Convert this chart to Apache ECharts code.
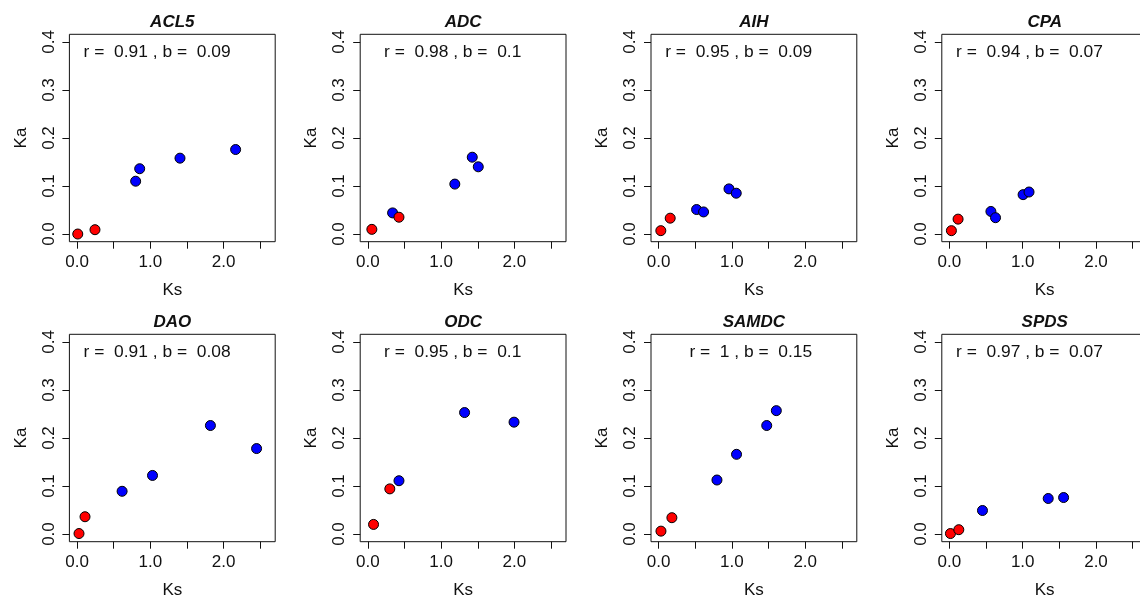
<!DOCTYPE html>
<html>
<head>
<meta charset="utf-8">
<title>Ka vs Ks</title>
<script src="https://cdn.jsdelivr.net/npm/echarts@6/dist/echarts.min.js"></script>
<style>
  html, body { margin: 0; padding: 0; background: #ffffff; }
  #chart { width: 1140px; height: 596px; }
</style>
</head>
<body>
<div id="chart"></div>
<script>
// Gene panels, in reading order (top row, then bottom row)
const genes = ['ACL5', 'ADC', 'AIH', 'CPA', 'DAO', 'ODC', 'SAMDC', 'SPDS'];
const rValues = ['0.91', '0.98', '0.95', '0.94', '0.91', '0.95', '1', '0.97'];
const bValues = ['0.09', '0.1', '0.09', '0.07', '0.08', '0.1', '0.15', '0.07'];

// Ks / Ka per gene, sorted by Ks; group 0 = red, 1 = blue
const ksACL5 = [0.01, 0.245, 0.80, 0.855, 1.405, 2.164];
const kaACL5 = [0.000, 0.009, 0.110, 0.136, 0.158, 0.176];
const grpACL5 = [0, 0, 1, 1, 1, 1];

const ksADC = [0.055, 0.338, 0.425, 1.187, 1.425, 1.507];
const kaADC = [0.0097, 0.044, 0.035, 0.104, 0.160, 0.140];
const grpADC = [0, 1, 0, 1, 1, 1];

const ksAIH = [0.03, 0.158, 0.518, 0.613, 0.96, 1.059];
const kaAIH = [0.007, 0.033, 0.051, 0.046, 0.094, 0.085];
const grpAIH = [0, 0, 1, 1, 1, 1];

const ksCPA = [0.027, 0.118, 0.566, 0.629, 1.005, 1.086];
const kaCPA = [0.007, 0.031, 0.047, 0.034, 0.082, 0.0875];
const grpCPA = [0, 0, 1, 1, 1, 1];

const ksDAO = [0.027, 0.109, 0.615, 1.03, 1.82, 2.45];
const kaDAO = [0.001, 0.036, 0.089, 0.122, 0.226, 0.178];
const grpDAO = [0, 0, 1, 1, 1, 1];

const ksODC = [0.078, 0.30, 0.425, 1.32, 1.995];
const kaODC = [0.020, 0.094, 0.111, 0.253, 0.233];
const grpODC = [0, 0, 1, 1, 1];

const ksSAMDC = [0.032, 0.181, 0.796, 1.063, 1.475, 1.606];
const kaSAMDC = [0.006, 0.034, 0.1125, 0.166, 0.226, 0.257];
const grpSAMDC = [0, 0, 1, 1, 1, 1];

const ksSPDS = [0.014, 0.128, 0.451, 1.348, 1.558];
const kaSPDS = [0.001, 0.009, 0.049, 0.074, 0.076];
const grpSPDS = [0, 0, 1, 1, 1];

// Axis ticks and labels
const ksTicks = [0, 0.5, 1, 1.5, 2, 2.5];
const ksLabels = [0, 1, 2];
const kaTicks = [0, 0.1, 0.2, 0.3, 0.4];

const ksSets = [ksACL5, ksADC, ksAIH, ksCPA, ksDAO, ksODC, ksSAMDC, ksSPDS];
const kaSets = [kaACL5, kaADC, kaAIH, kaCPA, kaDAO, kaODC, kaSAMDC, kaSPDS];
const grpSets = [grpACL5, grpADC, grpAIH, grpCPA, grpDAO, grpODC, grpSAMDC, grpSPDS];

const groupColors = ['#ff0000', '#0000ff'];
const ink = '#111111';
const font = '"Liberation Sans", Arial, Helvetica, sans-serif';

// Plot ranges padded by 4% on each side, like R's default axis style
const xLim = [0, 2.6], yLim = [0, 0.4];
const xPad = 0.04 * (xLim[1] - xLim[0]), yPad = 0.04 * (yLim[1] - yLim[0]);

// Anchor of the r / b annotation (right end of the text), in data units
const noteAnchor = [2.095, 0.379];

// Panel geometry (px)
const boxLeft0 = 69.4, boxStep = 290.8, boxW = 205.8, boxH = 207.4;
const boxTops = [34.3, 334.3];

const grids = [], xAxes = [], yAxes = [], series = [], graphics = [];

genes.forEach((gene, i) => {
  const row = Math.floor(i / 4), col = i % 4;
  const left = boxLeft0 + col * boxStep;
  const top = boxTops[row];

  grids.push({
    left: left, top: top, width: boxW, height: boxH,
    show: true, borderColor: ink, borderWidth: 1,
    backgroundColor: 'transparent',
    containLabel: false, outerBoundsMode: 'none'
  });

  xAxes.push({
    gridIndex: i, type: 'value',
    min: xLim[0] - xPad, max: xLim[1] + xPad,
    name: 'Ks', nameLocation: 'middle', nameGap: 40,
    nameTextStyle: { fontSize: 17, color: ink, fontFamily: font },
    axisLine: { show: false, onZero: false },
    axisTick: { show: true, inside: false, length: 7, customValues: ksTicks,
                lineStyle: { color: ink, width: 1 } },
    axisLabel: { show: true, customValues: ksLabels, margin: 12,
                 formatter: v => Number(v).toFixed(1),
                 fontSize: 17, color: ink, fontFamily: font },
    splitLine: { show: false }
  });

  yAxes.push({
    gridIndex: i, type: 'value',
    min: yLim[0] - yPad, max: yLim[1] + yPad,
    name: 'Ka', nameLocation: 'middle', nameGap: 40, nameRotate: 90,
    nameTextStyle: { fontSize: 17, color: ink, fontFamily: font },
    axisLine: { show: false, onZero: false },
    axisTick: { show: true, inside: false, length: 7, customValues: kaTicks,
                lineStyle: { color: ink, width: 1 } },
    axisLabel: { show: true, customValues: kaTicks, margin: 12, rotate: 90,
                 formatter: v => Number(v).toFixed(1),
                 fontSize: 17, color: ink, fontFamily: font },
    splitLine: { show: false }
  });

  // Points for this gene, coloured by group
  const pts = ksSets[i].map((ks, k) => ({
    value: [ks, kaSets[i][k]],
    itemStyle: { color: groupColors[grpSets[i][k]] }
  }));
  series.push({
    type: 'scatter', xAxisIndex: i, yAxisIndex: i,
    symbol: 'circle', symbolSize: 10,
    itemStyle: { borderColor: '#000', borderWidth: 1, opacity: 1 },
    data: pts, silent: true, z: 3
  });

  // Correlation / slope annotation, right-aligned near the top of the panel
  series.push({
    type: 'scatter', xAxisIndex: i, yAxisIndex: i,
    symbolSize: 0,
    itemStyle: { color: ink, borderWidth: 0 },
    data: [noteAnchor], silent: true, z: 4,
    label: {
      show: true, position: 'left', distance: 0,
      formatter: 'r =  ' + rValues[i] + ' , b =  ' + bValues[i],
      fontSize: 17.4, color: ink, fontFamily: font,
      opacity: 1, textBorderWidth: 0
    },
    labelLayout: { hideOverlap: false }
  });

  // Panel title
  graphics.push({
    type: 'text', x: left + boxW / 2, y: top - 12, silent: true,
    style: { text: gene, textAlign: 'center', textVerticalAlign: 'middle',
             fontSize: 17, fontWeight: 'bold', fontStyle: 'italic',
             fontFamily: font, fill: ink }
  });
});

const chart = echarts.init(document.getElementById('chart'), null, { renderer: 'canvas' });
chart.setOption({
  animation: false,
  backgroundColor: '#ffffff',
  grid: grids,
  xAxis: xAxes,
  yAxis: yAxes,
  series: series,
  graphic: graphics
});
</script>
</body>
</html>
